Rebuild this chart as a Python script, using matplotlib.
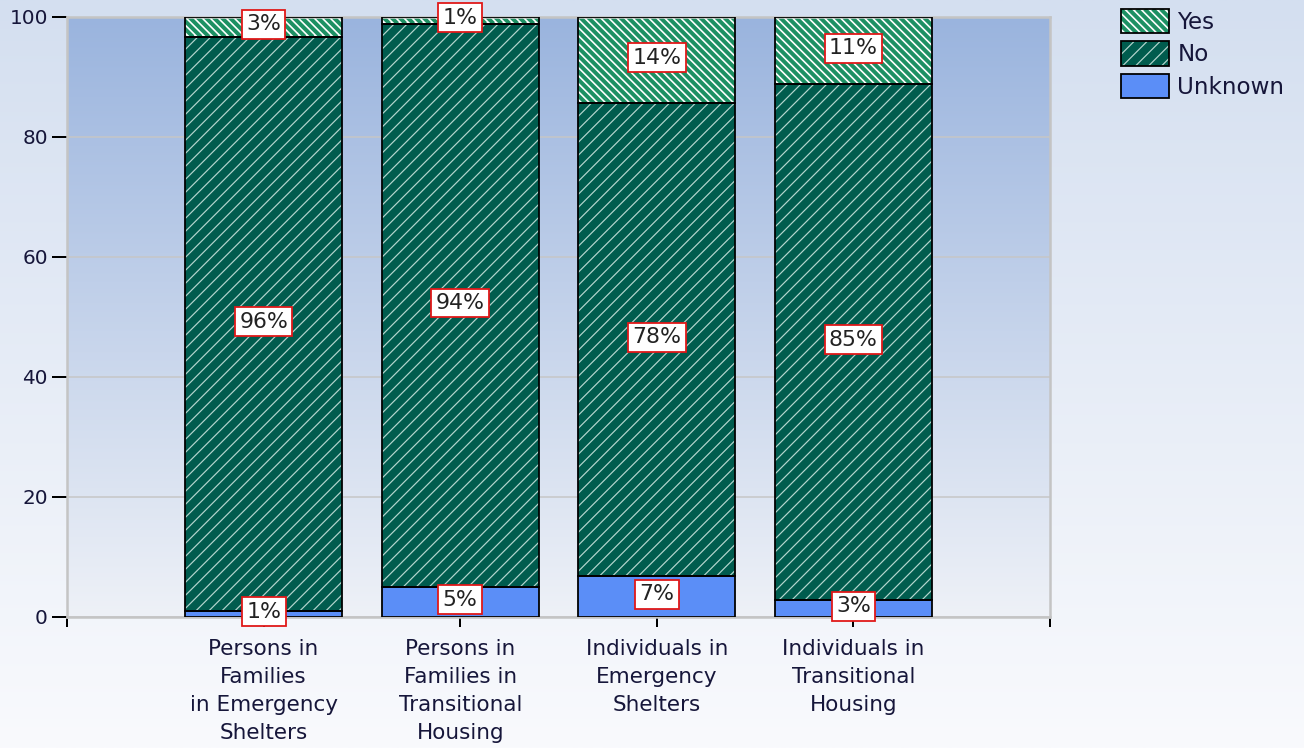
import numpy as np
import matplotlib
matplotlib.use('Agg')
import matplotlib.pyplot as plt
from matplotlib.patches import Rectangle
from matplotlib.collections import LineCollection
from matplotlib.legend_handler import HandlerBase
from matplotlib.colors import to_rgb

DPI = 120
W, H = 1304, 748

def pt(px):
    # pixel size -> points at this dpi
    return px * 72.0 / DPI

# data
categories = ['Persons in\nFamilies\nin Emergency\nShelters',
              'Persons in\nFamilies in\nTransitional\nHousing',
              'Individuals in\nEmergency\nShelters',
              'Individuals in\nTransitional\nHousing']
unknown = [1.0, 5.0, 6.8, 2.8]
no = [95.7, 93.9, 78.8, 86.0]
yes = [3.3, 1.1, 14.4, 11.2]
unknown_pct = [1, 5, 7, 3]
no_pct = [96, 94, 78, 85]
yes_pct = [3, 1, 14, 11]
yticks = [0, 20, 40, 60, 80, 100]

txt = '#16163a'
c_unknown = '#5b8ef7'
c_no = '#005c4e'
c_yes = '#1d9063'

# stripe styles: (face, stripe colour, period px, stripe width px, direction)
STYLE = {
    'Unknown': (c_unknown, None, 0, 0, 0),
    'No': (c_no, '#b4d6ce', 13.0, 1.2, 1),      # '/' thin light lines
    'Yes': ('white', c_yes, 8.0, 4.0, -1),      # '\' thick green lines
}

AX_L, AX_R, AX_T, AX_B = 67, 1050, 17, 617


def gradient(top, bottom, n=256):
    t = np.linspace(0, 1, n)[:, None]
    a, b = np.array(to_rgb(top)), np.array(to_rgb(bottom))
    return (a * (1 - t) + b * t)[:, None, :].repeat(2, axis=1)


def stripe_segments(x0, x1, y0, y1, period, direction):
    # diagonal 45 deg (in the given isotropic units) lines covering the box
    h = y1 - y0
    segs = []
    for c in np.arange(x0 - h, x1 + h, period):
        if direction > 0:
            segs.append([(c, y0), (c + h, y1)])
        else:
            segs.append([(c + h, y0), (c, y1)])
    return segs


class StripeHandler(HandlerBase):
    def create_artists(self, legend, orig_handle, xdescent, ydescent,
                       width, height, fontsize, trans):
        face, scol, period, lw, d = STYLE[orig_handle]
        x0, y0 = -xdescent, -ydescent
        r = Rectangle((x0, y0), width, height, facecolor=face, edgecolor='none',
                      transform=trans)
        arts = [r]
        if scol:
            lc = LineCollection(stripe_segments(x0, x0 + width, y0, y0 + height,
                                                pt(period), d),
                                colors=scol, linewidths=pt(lw), transform=trans)
            lc.set_clip_path(r)
            arts.append(lc)
        arts.append(Rectangle((x0, y0), width, height, fill=False, edgecolor='black',
                              linewidth=pt(1.8), transform=trans))
        return arts


fig = plt.figure(figsize=(W / DPI, H / DPI), dpi=DPI)

# figure background gradient
bg = fig.add_axes([0, 0, 1, 1], zorder=-10)
bg.imshow(gradient('#d4dff0', '#f9fafd'), aspect='auto', extent=[0, 1, 0, 1])
bg.axis('off')

ax = fig.add_axes([AX_L / W, 1 - AX_B / H, (AX_R - AX_L) / W, (AX_B - AX_T) / H])
ax.set_facecolor('none')
ax.imshow(gradient('#9ab4de', '#eef1f7'), aspect='auto', extent=[0, 5, 0, 100], zorder=0)
ax.set_xlim(0, 5)
ax.set_ylim(0, 100)
sx = (AX_R - AX_L) / 5.0     # px per x unit
sy = (AX_B - AX_T) / 100.0   # px per y unit

x = np.arange(1, 5)
bw = 0.8
series = [('Unknown', unknown, unknown_pct),
          ('No', no, no_pct),
          ('Yes', yes, yes_pct)]
bottom = np.zeros(4)
for name, vals, pcts in series:
    vals = np.array(vals)
    face, scol, period, lw, d = STYLE[name]
    bars = ax.bar(x, vals, bw, bottom=bottom, color=face, linewidth=0, zorder=2)
    if scol:
        for r in bars:
            bx, by = r.get_x(), r.get_y()
            segs = stripe_segments(bx * sx, (bx + r.get_width()) * sx,
                                   by * sy, (by + r.get_height()) * sy, period, d)
            segs = [[(px_ / sx, py_ / sy) for px_, py_ in s] for s in segs]
            lc = LineCollection(segs, colors=scol, linewidths=pt(lw), zorder=2.5)
            ax.add_collection(lc)
            lc.set_clip_path(r)
    ax.bar(x, vals, bw, bottom=bottom, fill=False, edgecolor='black',
           linewidth=pt(1.8), zorder=3)
    for xi, b, v, p in zip(x, bottom, vals, pcts):
        ax.text(xi, b + v / 2 + 0.4, f'{p}%', ha='center', va='center',
                fontsize=pt(22), color='#222222', zorder=5,
                bbox=dict(boxstyle='square,pad=0.2', fc='white', ec='#e01818', lw=pt(1.8)))
    bottom = bottom + vals

ax.set_xlim(0, 5)
ax.set_ylim(0, 100)
ax.set_yticks(yticks)
ax.set_yticklabels([str(v) for v in yticks], fontsize=pt(20), color=txt)
ax.set_xticks(range(6))
ax.set_xticklabels([''] + categories + [''], fontsize=pt(21.5), color=txt, linespacing=1.5)
ax.tick_params(axis='y', length=pt(15), width=pt(2), direction='out', pad=pt(4))
ax.tick_params(axis='x', length=pt(10), width=pt(2), direction='out', pad=pt(12))
ax.yaxis.grid(True, color='#c6c6c6', linewidth=pt(1.5))
ax.set_axisbelow(True)
for s in ax.spines.values():
    s.set_color('#c4c4c4')
    s.set_linewidth(pt(2.5))

order = ['Yes', 'No', 'Unknown']
leg = fig.legend(order, order, handler_map={str: StripeHandler()},
                 loc='upper left', bbox_to_anchor=(1121 / W, 1 - 9 / H),
                 frameon=False, fontsize=pt(23), handlelength=2.1, handleheight=1.25,
                 handletextpad=0.35, labelspacing=0.33, borderpad=0, borderaxespad=0)
for t in leg.get_texts():
    t.set_color(txt)

fig.savefig('out.png', dpi=DPI)
